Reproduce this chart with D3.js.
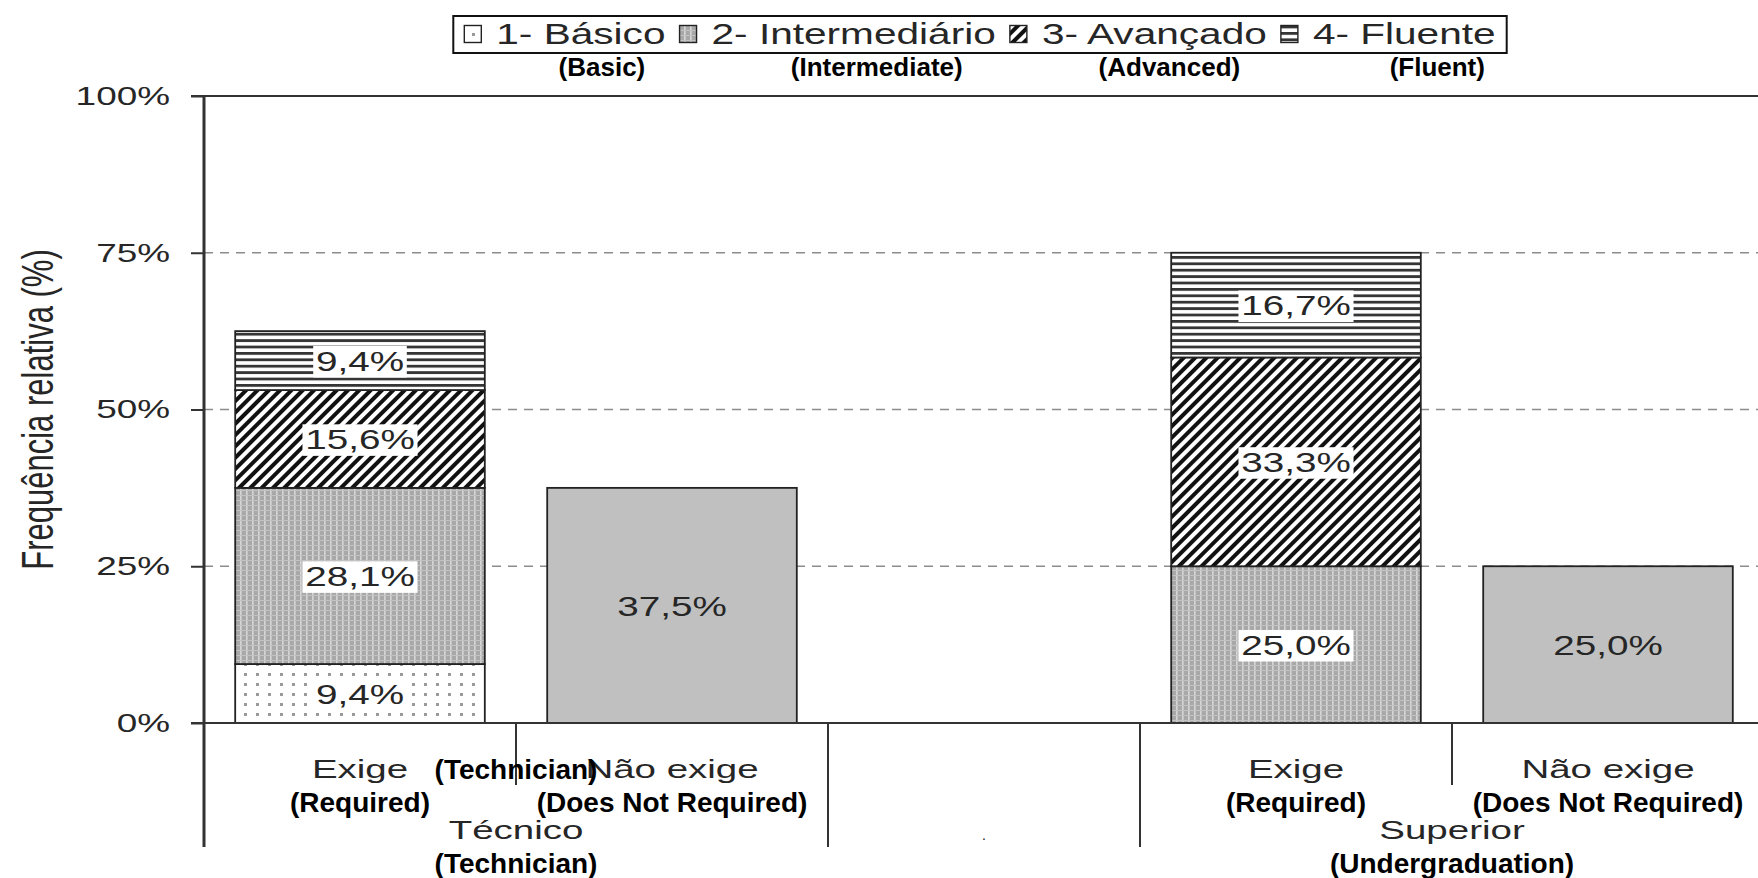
<!DOCTYPE html>
<html>
<head>
<meta charset="utf-8">
<script src="https://cdn.jsdelivr.net/npm/d3@7"></script>
<style>
  body { margin: 0; background: #fff; }
  svg { display: block; }
  text { font-family: "Liberation Sans", Arial, sans-serif; }
</style>
</head>
<body>
<script>
(function() {
    'use strict';

    // ---- data ----
    var groups = ['Técnico', '.', 'Superior'];
    var groupNotes = ['(Technician)', '', '(Undergraduation)'];
    var slots = ['Técnico|Exige', 'Técnico|Não exige', '.|', 'Superior|Exige', 'Superior|Não exige'];
    var slotLabels = ['Exige', 'Não exige', '', 'Exige', 'Não exige'];
    var slotNotes = ['(Required)', '(Does Not Required)', '', '(Required)', '(Does Not Required)'];
    var levels = ['1- Básico', '2- Intermediário', '3- Avançado', '4- Fluente'];
    var levelNotes = ['(Basic)', '(Intermediate)', '(Advanced)', '(Fluent)'];
    var basico = [9.4, 0, 0, 0, 0];
    var intermediario = [28.1, 0, 0, 25.0, 0];
    var avancado = [15.6, 0, 0, 33.3, 0];
    var fluente = [9.4, 0, 0, 16.7, 0];
    var naoExige = [0, 37.5, 0, 0, 25.0];
    var yTicks = [0, 25, 50, 75, 100];

    var keys = ['basic', 'inter', 'adv', 'fluent', 'none'];
    var rows = slots.map(function(s, i) {
        return { slot: s, basic: basico[i], inter: intermediario[i], adv: avancado[i],
                 fluent: fluente[i], none: naoExige[i] };
    });

    // ---- layout ----
    var width = 1758, height = 878;
    var plot = { left: 204, right: 1764, top: 96, bottom: 723 };
    var ink = '#262626';
    var SX = 1.42;           // horizontal stretch of the original chart lettering

    var svg = d3.select('body').append('svg')
        .attr('width', width)
        .attr('height', height);

    var defs = svg.append('defs');

    // fill patterns
    var p = defs.append('pattern').attr('id', 'pat-basic')
        .attr('patternUnits', 'userSpaceOnUse').attr('width', 12).attr('height', 10);
    p.append('rect').attr('width', 12).attr('height', 10).attr('fill', '#fff');
    p.append('rect').attr('x', 4).attr('y', 3).attr('width', 3).attr('height', 3).attr('fill', '#9a9a9a');

    p = defs.append('pattern').attr('id', 'pat-inter')
        .attr('patternUnits', 'userSpaceOnUse').attr('width', 6).attr('height', 5);
    p.append('rect').attr('width', 6).attr('height', 5).attr('fill', '#a8a8a8');
    p.append('rect').attr('width', 1.6).attr('height', 5).attr('fill', '#d6d6d6');
    p.append('rect').attr('width', 6).attr('height', 1).attr('fill', '#c2c2c2');

    p = defs.append('pattern').attr('id', 'pat-adv')
        .attr('patternUnits', 'userSpaceOnUse').attr('width', 8).attr('height', 8)
        .attr('patternTransform', 'rotate(45)');
    p.append('rect').attr('width', 8).attr('height', 8).attr('fill', '#fff');
    p.append('rect').attr('width', 4).attr('height', 8).attr('fill', '#111');

    p = defs.append('pattern').attr('id', 'pat-fluent')
        .attr('patternUnits', 'userSpaceOnUse').attr('width', 10).attr('height', 6.4);
    p.append('rect').attr('width', 10).attr('height', 6.4).attr('fill', '#fff');
    p.append('rect').attr('width', 10).attr('height', 2.8).attr('fill', '#353535');

    var fills = { basic: 'url(#pat-basic)', inter: 'url(#pat-inter)', adv: 'url(#pat-adv)',
                  fluent: 'url(#pat-fluent)', none: '#c0c0c0' };

    // ---- scales ----
    var x = d3.scaleBand()
        .domain(slots)
        .range([plot.left, plot.right])
        .paddingInner(0.2)
        .paddingOuter(0.1);

    var y = d3.scaleLinear()
        .domain([0, 100])
        .range([plot.bottom, plot.top]);

    function stretched(g, tx, ty, str, size, sx) {
        return g.append('text')
            .attr('transform', 'translate(' + tx + ',' + ty + ') scale(' + sx + ',1)')
            .attr('text-anchor', 'middle')
            .attr('font-size', size)
            .attr('fill', ink)
            .text(str);
    }

    // ---- grid ----
    svg.append('g').selectAll('line')
        .data(yTicks.filter(function(d) { return d > 0 && d < 100; }))
        .join('line')
        .attr('x1', plot.left).attr('x2', width)
        .attr('y1', function(d) { return y(d); }).attr('y2', function(d) { return y(d); })
        .attr('stroke', '#8c8c8c')
        .attr('stroke-width', 1.4)
        .attr('stroke-dasharray', '9,7');

    svg.append('line')
        .attr('x1', plot.left - 13).attr('x2', width)
        .attr('y1', y(100)).attr('y2', y(100))
        .attr('stroke', '#333').attr('stroke-width', 2.2);

    // ---- bars ----
    var stacked = d3.stack().keys(keys)(rows);

    var series = svg.append('g').selectAll('g')
        .data(stacked)
        .join('g')
        .attr('fill', function(d) { return fills[d.key]; });

    series.selectAll('rect')
        .data(function(d) { return d.filter(function(e) { return e[1] > e[0]; }); })
        .join('rect')
        .attr('x', function(d) { return x(d.data.slot); })
        .attr('y', function(d) { return y(d[1]); })
        .attr('width', x.bandwidth())
        .attr('height', function(d) { return y(d[0]) - y(d[1]); })
        .attr('stroke', '#222')
        .attr('stroke-width', 1.8);

    // value labels
    var fmt = function(v) { return d3.format('.1f')(v).replace('.', ',') + '%'; };
    var labels = svg.append('g');
    stacked.forEach(function(s) {
        s.forEach(function(d) {
            if (d[1] <= d[0]) return;
            var cx = x(d.data.slot) + x.bandwidth() / 2;
            var cy = y((d[0] + d[1]) / 2);
            var g = labels.append('g')
                .attr('transform', 'translate(' + cx + ',' + cy + ') scale(1.38,1)');
            var t = g.append('text')
                .attr('text-anchor', 'middle')
                .attr('dy', '0.36em')
                .attr('font-size', 28)
                .attr('fill', ink)
                .text(fmt(d[1] - d[0]));
            if (s.key !== 'none') {
                var b = t.node().getBBox();
                g.insert('rect', 'text')
                    .attr('x', b.x - 2).attr('y', b.y + 1)
                    .attr('width', b.width + 4).attr('height', b.height)
                    .attr('fill', '#fff');
            }
        });
    });

    // ---- y axis ----
    var yAxis = svg.append('g')
        .attr('transform', 'translate(' + plot.left + ',0)')
        .call(d3.axisLeft(y).tickValues(yTicks).tickSize(13)
            .tickFormat(function(d) { return d + '%'; }));
    yAxis.select('.domain').remove();
    yAxis.selectAll('.tick line').attr('stroke', '#333').attr('stroke-width', 2);
    yAxis.selectAll('.tick text')
        .attr('x', -34 / SX)
        .attr('transform', 'scale(' + SX + ',1)')
        .attr('font-size', 26)
        .attr('font-family', '"Liberation Sans", Arial, sans-serif')
        .attr('fill', ink);

    var axisBottomExtent = 847, innerTickExtent = 785;

    svg.append('line')
        .attr('x1', plot.left).attr('x2', plot.left)
        .attr('y1', plot.top).attr('y2', axisBottomExtent)
        .attr('stroke', '#333').attr('stroke-width', 3);

    svg.append('line')
        .attr('x1', plot.left - 13).attr('x2', width)
        .attr('y1', y(0)).attr('y2', y(0))
        .attr('stroke', '#333').attr('stroke-width', 2.2);

    svg.append('text')
        .attr('transform', 'translate(37,' + y(50) + ') rotate(-90) scale(1,1.45)')
        .attr('text-anchor', 'middle')
        .attr('dy', '0.36em')
        .attr('font-size', 31)
        .attr('fill', ink)
        .text('Frequência relativa (%)');

    // ---- hierarchical x axis ----
    var groupOf = function(s) { return s.split('|')[0]; };
    var bounds = d3.range(slots.length + 1).map(function(i) {
        return plot.left + i * x.step();
    });
    var xAxis = svg.append('g');
    bounds.forEach(function(bx, i) {
        if (i === 0) return;
        var long = i === slots.length || groupOf(slots[i - 1]) !== groupOf(slots[i]);
        xAxis.append('line')
            .attr('x1', bx).attr('x2', bx)
            .attr('y1', y(0)).attr('y2', long ? axisBottomExtent : innerTickExtent)
            .attr('stroke', '#333').attr('stroke-width', 2);
    });

    function note(g, cx, cy, str) {
        return g.append('text')
            .attr('x', cx).attr('y', cy)
            .attr('text-anchor', 'middle')
            .attr('font-size', 28).attr('font-weight', 'bold')
            .attr('fill', '#000')
            .text(str);
    }

    slots.forEach(function(s, i) {
        var cx = x(s) + x.bandwidth() / 2;
        if (slotLabels[i]) stretched(xAxis, cx, 778, slotLabels[i], 26, 1.48);
        if (slotNotes[i]) note(xAxis, cx, 812, slotNotes[i]);
    });

    groups.forEach(function(gname, gi) {
        var members = slots.filter(function(s) { return groupOf(s) === gname; });
        var i0 = slots.indexOf(members[0]);
        var cx = (bounds[i0] + bounds[i0 + members.length]) / 2;
        if (gname === '.') {
            xAxis.append('text').attr('x', cx).attr('y', 840)
                .attr('text-anchor', 'middle').attr('font-size', 14).attr('fill', ink).text('.');
            return;
        }
        stretched(xAxis, cx, 839, gname, 26, 1.48);
        note(xAxis, cx, 873, groupNotes[gi]);
        // the translator's note also sits over the sub-category row
        if (gi === 0) note(xAxis, cx, 779, groupNotes[gi]);
    });

    // ---- legend ----
    var legend = svg.append('g');
    var LSX = 1.40, iconSize = 17, iconGap = 15, itemGap = 14, legendPad = 11;
    var legendMid = 980, legendY = 34;
    var items = legend.selectAll('g.item')
        .data(levels)
        .join('g').attr('class', 'item');
    var texts = items.append('text')
        .attr('font-size', 29)
        .attr('fill', ink)
        .attr('dy', '0.36em')
        .text(function(d) { return d; });
    var widths = [];
    texts.each(function() { widths.push(this.getComputedTextLength() * LSX); });
    var step = iconSize + iconGap;
    var total = d3.sum(widths) + levels.length * step + (levels.length - 1) * itemGap;
    var lx = legendMid - total / 2;
    var textMids = [];
    items.each(function(d, i) {
        var g = d3.select(this);
        g.insert('rect', 'text')
            .attr('x', lx).attr('y', legendY - iconSize / 2)
            .attr('width', iconSize).attr('height', iconSize)
            .attr('fill', fills[keys[i]])
            .attr('stroke', '#222').attr('stroke-width', 1.4);
        g.select('text')
            .attr('transform', 'translate(' + (lx + step) + ',' + legendY + ') scale(' + LSX + ',1)');
        textMids.push(lx + step + widths[i] / 2);
        lx += step + widths[i] + itemGap;
    });
    legend.append('rect')
        .attr('x', legendMid - total / 2 - legendPad).attr('y', 16)
        .attr('width', total + 2 * legendPad).attr('height', 37)
        .attr('fill', 'none')
        .attr('stroke', '#111').attr('stroke-width', 2);

    var legendNoteDx = [21, 23, 15, 33];
    legend.selectAll('text.note')
        .data(levelNotes)
        .join('text').attr('class', 'note')
        .attr('x', function(d, i) { return textMids[i] + legendNoteDx[i]; })
        .attr('y', 76)
        .attr('text-anchor', 'middle')
        .attr('font-size', 26).attr('font-weight', 'bold')
        .attr('fill', '#000')
        .text(function(d) { return d; });

}());
</script>
</body>
</html>
